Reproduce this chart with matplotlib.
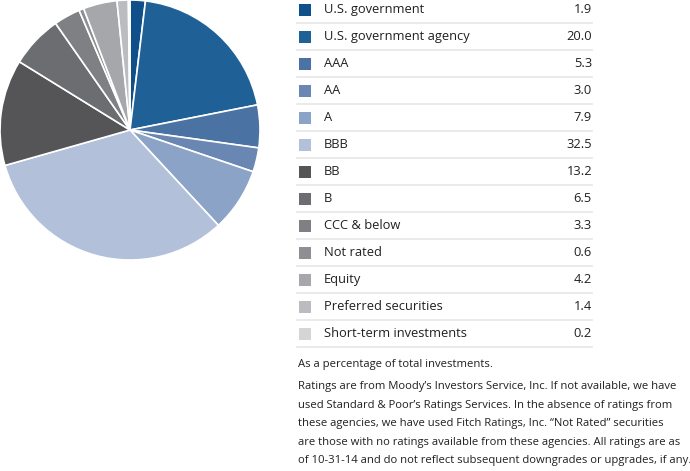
import matplotlib
matplotlib.use("Agg")
import matplotlib.pyplot as plt
from matplotlib.patches import Rectangle

plt.rcParams["font.family"] = ["Open Sans", "DejaVu Sans"]

# Portfolio composition (% of total investments)
categories = ["U.S. government", "U.S. government agency", "AAA", "AA", "A", "BBB",
              "BB", "B", "CCC & below", "Not rated", "Equity",
              "Preferred securities", "Short-term investments"]
values = [1.9, 20.0, 5.3, 3.0, 7.9, 32.5, 13.2, 6.5, 3.3, 0.6, 4.2, 1.4, 0.2]
colors = ["#0f4f8a", "#1f6196", "#4a72a3", "#6a87b3", "#8ba3c7", "#b2c0da",
          "#555558", "#6c6d70", "#7f8083", "#8e8f92", "#a6a7aa", "#bbbcbf", "#d4d5d7"]

note1 = "As a percentage of total investments."
note2 = ["Ratings are from Moody\u2019s Investors Service, Inc. If not available, we have",
         "used Standard & Poor\u2019s Ratings Services. In the absence of ratings from",
         "these agencies, we have used Fitch Ratings, Inc. \u201cNot Rated\u201d securities",
         "are those with no ratings available from these agencies. All ratings are as",
         "of 10-31-14 and do not reflect subsequent downgrades or upgrades, if any."]

W, H = 690, 471
fig = plt.figure(figsize=(W / 100, H / 100), dpi=100)

# pie
ax = fig.add_axes([0, 211 / H, 260 / W, 260 / H])
ax.pie(values, colors=colors, startangle=90, counterclock=False,
       wedgeprops=dict(edgecolor="white", linewidth=1.2))
ax.set_aspect("equal")
ax.set_xlim(-1.0, 1.0)
ax.set_ylim(-1.0, 1.0)

# legend table drawn in pixel coordinates
lg = fig.add_axes([0, 0, 1, 1])
lg.set_xlim(0, W)
lg.set_ylim(H, 0)
lg.axis("off")

row0, step = 9.5, 27.0
for i, (cat, val, col) in enumerate(zip(categories, values, colors)):
    y = row0 + i * step
    lg.add_patch(Rectangle((299, y - 6), 12, 12, facecolor=col, edgecolor="none"))
    lg.text(324, y, cat, fontsize=9.3, color="#231f20", va="center", ha="left")
    lg.text(592, y, f"{val:.1f}", fontsize=9.3, color="#231f20", va="center", ha="right")
    lg.plot([297, 592], [y + 13.5, y + 13.5], color="#e6e6e6", linewidth=1.2)

# footnotes
lg.text(298, 365, note1, fontsize=8.1, color="#231f20", va="center", ha="left")
for k, line in enumerate(note2):
    lg.text(298, 387 + k * 18.4, line, fontsize=8.1, color="#231f20",
            va="center", ha="left")

fig.savefig("out.png", dpi=100)
